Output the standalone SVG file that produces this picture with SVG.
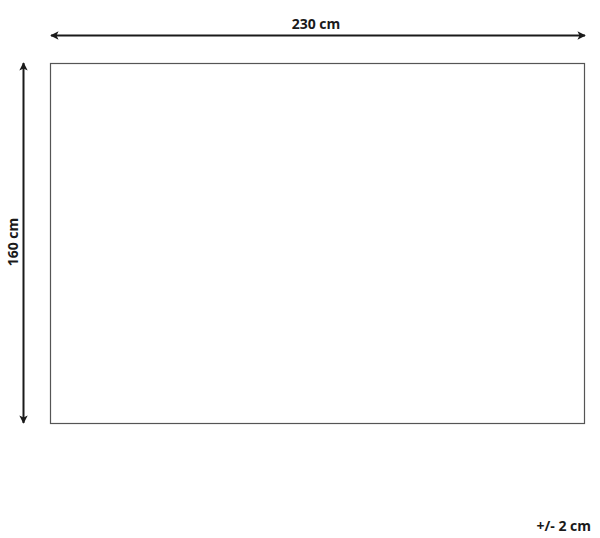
<svg xmlns="http://www.w3.org/2000/svg" width="600" height="538" viewBox="0 0 600 538">
<style>
.lbl{font-family:"Open Sans","Liberation Sans",sans-serif;font-weight:bold;font-size:14px;fill:#1a1a1a}
.dim{stroke:#1a1a1a;stroke-width:2;fill:none}
</style>
<defs>
<marker id="ah" viewBox="0 0 10 10" refX="9" refY="5" markerWidth="4.2" markerHeight="4.2" markerUnits="strokeWidth" orient="auto-start-reverse">
<path d="M0,0 L10,5 L0,10 L2.5,5 Z" fill="#1a1a1a"/>
</marker>
</defs>
<rect width="600" height="538" fill="#ffffff"/>
<g id="rug">
<rect x="50.5" y="63.5" width="534" height="360" fill="#ffffff" stroke="#555555" stroke-width="1.2"/>
</g>
<g id="connectors">
<line class="dim" x1="51" y1="35.5" x2="585" y2="35.5" marker-start="url(#ah)" marker-end="url(#ah)"/>
<line class="dim" x1="23.5" y1="63" x2="23.5" y2="423" marker-start="url(#ah)" marker-end="url(#ah)"/>
</g>
<g id="labels">
<text class="lbl" x="316" y="29" text-anchor="middle">230 cm</text>
<text class="lbl" transform="translate(18,242) rotate(-90)" text-anchor="middle">160 cm</text>
<text class="lbl" x="591" y="531" text-anchor="end">+/- 2 cm</text>
</g>
</svg>
